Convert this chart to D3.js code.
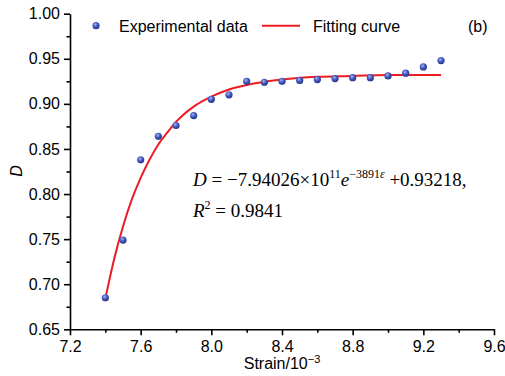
<!DOCTYPE html>
<meta charset="utf-8">
<style type="text/css">
body { margin: 0; background: #fff; }
svg text { font-family: "Liberation Sans", Arial, sans-serif; fill: #000; }
.axis path, .axis line { stroke: #000; stroke-width: 1.6px; }
.axis text { font-size: 16px; font-family: "Liberation Sans", Arial, sans-serif; }
.eq { font-family: "Liberation Serif", "Times New Roman", serif; font-size: 19px; }
</style>
<body>
<div class="g-chart"></div>
<script src="https://cdnjs.cloudflare.com/ajax/libs/d3/7.8.5/d3.min.js"></script>
<script>
// experimental points (strain in 10^-3, damage D)
var strain = [7.4, 7.5, 7.6, 7.7, 7.8, 7.9, 8.0, 8.1, 8.2, 8.3, 8.4, 8.5, 8.6, 8.7, 8.8, 8.9, 9.0, 9.1, 9.2, 9.3];
var damage = [0.685, 0.749, 0.838, 0.864, 0.876, 0.887, 0.905, 0.910, 0.925, 0.924, 0.925, 0.926, 0.927, 0.928, 0.929, 0.929, 0.931, 0.934, 0.941, 0.948];

// fitting curve
var fitStrain = [7.4, 7.45, 7.5, 7.55, 7.6, 7.65, 7.7, 7.75, 7.8, 7.9, 8.0, 8.1, 8.2, 8.4, 8.6, 8.8, 9.0, 9.3];
var fitD = [0.684, 0.728, 0.764, 0.794, 0.818, 0.838, 0.855, 0.868, 0.880, 0.897, 0.908, 0.916, 0.921, 0.927, 0.930, 0.931, 0.932, 0.932];

var xTicks = [7.2, 7.6, 8.0, 8.4, 8.8, 9.2, 9.6];
var xMinor = [7.4, 7.8, 8.2, 8.6, 9.0, 9.4];
var yTicks = [0.65, 0.70, 0.75, 0.80, 0.85, 0.90, 0.95, 1.00];
var yMinor = [0.675, 0.725, 0.775, 0.825, 0.875, 0.925, 0.975];

var W = 505, H = 376;
var margin = {top: 13.7, left: 70, right: 11, bottom: 46.7};

var svg = d3.select(".g-chart").append("svg")
  .attr("width", W)
  .attr("height", H);

var x = d3.scaleLinear().domain([7.2, 9.6]).range([margin.left, W - margin.right]);
var y = d3.scaleLinear().domain([0.65, 1.00]).range([H - margin.bottom, margin.top]);

// ball gradient for markers
var grad = svg.append("defs").append("radialGradient")
  .attr("id", "ball").attr("cx", "40%").attr("cy", "35%").attr("r", "65%");
grad.append("stop").attr("offset", "0%").attr("stop-color", "#a9b8f0");
grad.append("stop").attr("offset", "45%").attr("stop-color", "#4a60c4");
grad.append("stop").attr("offset", "100%").attr("stop-color", "#22308a");

// minor ticks
svg.append("g").attr("class", "axis")
  .attr("transform", "translate(0," + y(0.65) + ")")
  .call(d3.axisBottom(x).tickValues(xMinor).tickSize(3.5).tickFormat(""))
  .select(".domain").remove();
svg.append("g").attr("class", "axis")
  .attr("transform", "translate(" + x(7.2) + ",0)")
  .call(d3.axisLeft(y).tickValues(yMinor).tickSize(3.5).tickFormat(""))
  .select(".domain").remove();

// major axes
svg.append("g").attr("class", "axis")
  .attr("transform", "translate(0," + y(0.65) + ")")
  .call(d3.axisBottom(x).tickValues(xTicks).tickSize(6).tickSizeOuter(0).tickPadding(5).tickFormat(d3.format(".1f")));
svg.append("g").attr("class", "axis")
  .attr("transform", "translate(" + x(7.2) + ",0)")
  .call(d3.axisLeft(y).tickValues(yTicks).tickSize(6).tickSizeOuter(0).tickPadding(4).tickFormat(d3.format(".2f")));

// fitting curve
var line = d3.line()
  .x(function(d, i) { return x(fitStrain[i]); })
  .y(function(d) { return y(d); })
  .curve(d3.curveMonotoneX);
svg.append("path")
  .datum(fitD)
  .attr("d", line)
  .attr("fill", "none")
  .attr("stroke", "#ec1c24")
  .attr("stroke-width", 2);

// points
svg.append("g").selectAll("circle")
  .data(damage)
  .enter().append("circle")
  .attr("cx", function(d, i) { return x(strain[i]); })
  .attr("cy", function(d) { return y(d); })
  .attr("r", 3.6)
  .attr("fill", "url(#ball)");

// legend
svg.append("circle").attr("cx", 96).attr("cy", 25.7).attr("r", 3.6).attr("fill", "url(#ball)");
svg.append("text").attr("x", 119).attr("y", 31.7).attr("font-size", 16).text("Experimental data");
svg.append("line").attr("x1", 262).attr("x2", 300).attr("y1", 25.7).attr("y2", 25.7)
  .attr("stroke", "#ec1c24").attr("stroke-width", 2);
svg.append("text").attr("x", 313).attr("y", 31.7).attr("font-size", 16).text("Fitting curve");
svg.append("text").attr("x", 468).attr("y", 31.7).attr("font-size", 16).text("(b)");

// axis titles
var xt = svg.append("text").attr("x", (x(7.2) + x(9.6)) / 2).attr("y", 369)
  .attr("text-anchor", "middle").attr("font-size", 16);
xt.append("tspan").text("Strain/10");
xt.append("tspan").attr("dy", -6).attr("font-size", 11).text("\u22123");

svg.append("text")
  .attr("transform", "translate(22,171) rotate(-90)")
  .attr("text-anchor", "middle")
  .attr("font-size", 16).attr("font-style", "italic")
  .text("D");

// equation
var eq = svg.append("text").attr("class", "eq").attr("x", 193).attr("y", 186);
eq.append("tspan").attr("font-style", "italic").text("D");
eq.append("tspan").text(" = \u22127.94026\u00d710");
eq.append("tspan").attr("dy", -8).attr("font-size", 12).text("11");
eq.append("tspan").attr("dy", 8).attr("font-style", "italic").text("e");
eq.append("tspan").attr("dy", -8).attr("font-size", 12).text("\u22123891");
eq.append("tspan").attr("font-size", 12).attr("font-style", "italic").text("\u03b5");
eq.append("tspan").attr("dy", 8).text(" +0.93218,");

var eq2 = svg.append("text").attr("class", "eq").attr("x", 193).attr("y", 217);
eq2.append("tspan").attr("font-style", "italic").text("R");
eq2.append("tspan").attr("dy", -8).attr("font-size", 12).text("2");
eq2.append("tspan").attr("dy", 8).text(" = 0.9841");
</script>
</body>
